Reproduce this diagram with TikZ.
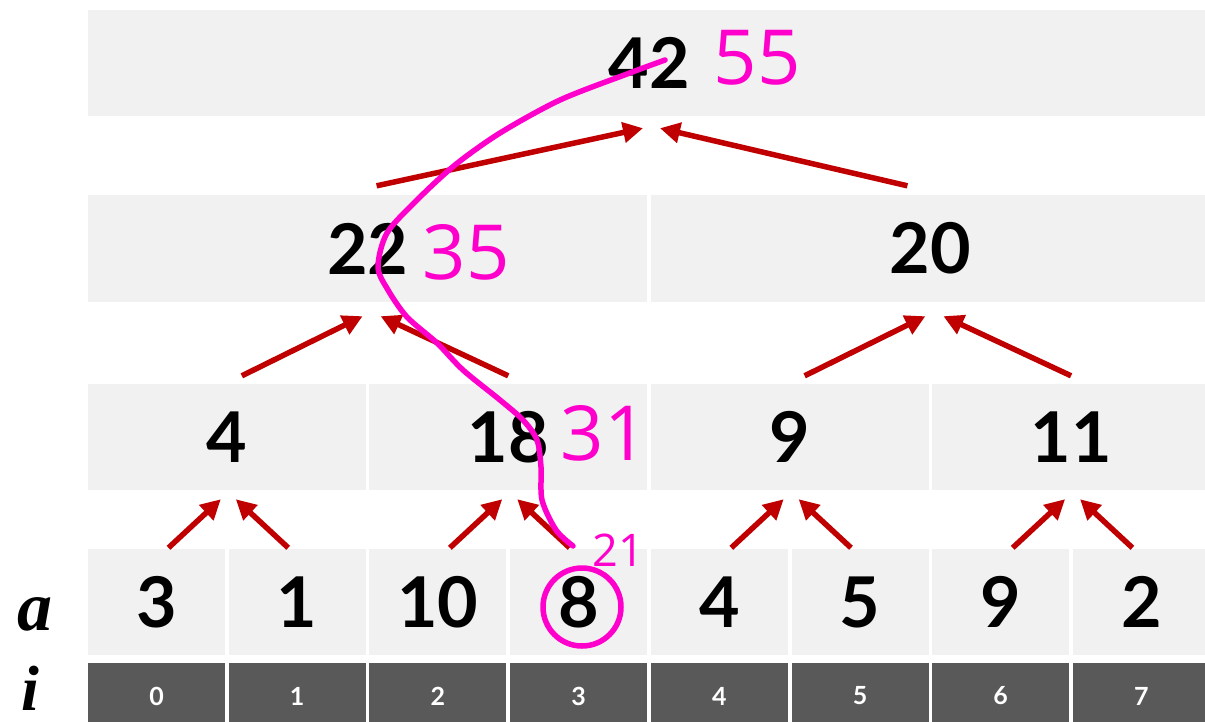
\documentclass[tikz,border=0pt]{standalone}
\usepackage{fontspec}
\setmainfont{Lato}
\newfontfamily\handfont{Open Sans}
\newfontfamily\varfont{Liberation Serif}
\usetikzlibrary{arrows.meta}
\definecolor{cellgray}{RGB}{241,241,241}
\definecolor{idxgray}{RGB}{89,89,89}
\definecolor{arrowred}{RGB}{192,0,0}
\definecolor{penpink}{RGB}{255,0,204}

\begin{document}
\begin{tikzpicture}[x=1pt, y=-1pt, >={Triangle[length=20pt,width=20pt]},
  cell/.style={fill=cellgray, inner sep=0pt, minimum height=106pt, font=\bfseries\fontsize{70}{70}\selectfont},
  idx/.style={fill=idxgray, text=white, inner sep=0pt, minimum width=137pt, minimum height=66pt, font=\bfseries\fontsize{25}{25}\selectfont},
  arr/.style={->, draw=arrowred, fill=arrowred, line width=5.5pt},
  pen/.style={draw=penpink, line width=5.5pt, line cap=round, line join=round},
  hand/.style={text=penpink, inner sep=0pt, font=\handfont\fontsize{76}{76}\selectfont},
  var/.style={inner sep=0pt, anchor=base, font=\varfont\bfseries\itshape\fontsize{70}{70}\selectfont}]
\clip (0,0) rectangle (1205,721);
\fill[white] (0,0) rectangle (1205,721);
% array and indices
\foreach \n/\v in {0/3,1/1,2/10,3/8,4/4,5/5,6/9,7/2} {
  \node[cell, minimum width=137pt] (a\n) at (156.5+140.7*\n,602) {\v};
  \node[idx] (i\n) at (156.5+140.7*\n,696) {\n};
}
\node[var] (lbla) at (35,630) {a};
\node[var, font=\varfont\bfseries\itshape\fontsize{64}{64}\selectfont] (lbli) at (30,710) {i};
% tree levels
\foreach \j/\v in {0/4,1/18,2/9,3/11}
  \node[cell, minimum width=277.7pt] (b\j) at (226.85+281.4*\j,437) {\v};
\foreach \k/\v in {0/22,1/20}
  \node[cell, minimum width=559.1pt, minimum height=107pt] (c\k) at (367.6+562.8*\k,248.5) {\v};
\node[cell, minimum width=1121.9pt] (top) at (649,63) {42};
% arrows
\foreach \j in {0,...,3} {
  \pgfmathtruncatemacro\lc{2*\j}
  \pgfmathtruncatemacro\rc{2*\j+1}
  \draw[arr] ([xshift=12pt,yshift=1pt]a\lc.north) -- ([xshift=-6pt,yshift=-9pt]b\j.south);
  \draw[arr] ([xshift=-9pt,yshift=1pt]a\rc.north) -- ([xshift=9pt,yshift=-9pt]b\j.south);
}
\foreach \k in {0,1} {
  \pgfmathtruncatemacro\lc{2*\k}
  \pgfmathtruncatemacro\rc{2*\k+1}
  \draw[arr] ([xshift=15pt,yshift=8pt]b\lc.north) -- ([xshift=-5pt,yshift=-14pt]c\k.south);
  \draw[arr] ([xshift=0pt,yshift=8pt]b\rc.north) -- ([xshift=13pt,yshift=-14pt]c\k.south);
}
\draw[arr] ([xshift=9pt,yshift=9pt]c0.north) -- ([xshift=-6pt,yshift=-12pt]top.south);
\draw[arr] ([xshift=-23pt,yshift=9pt]c1.north) -- ([xshift=11pt,yshift=-12pt]top.south);
% pen notes
\draw[pen] plot[smooth] coordinates {(665,60) (627,74) (560,100) (500,133) (455,165) (417,200) (387,233) (378,267) (388,290) (407,317) (437,343) (463,370) (500,400) (523,420) (537,440) (541,467) (542,500) (556,530) (573,546)};
\draw[pen] (582,607) circle [radius=39];
\node[hand] (s55) at (757,58) {55};
\node[hand] (s35) at (466,252) {35};
\node[hand] (s31) at (604,433) {31};
\node[hand, font=\handfont\fontsize{45}{45}\selectfont] (s21) at (618,550) {21};
\end{tikzpicture}
\end{document}
